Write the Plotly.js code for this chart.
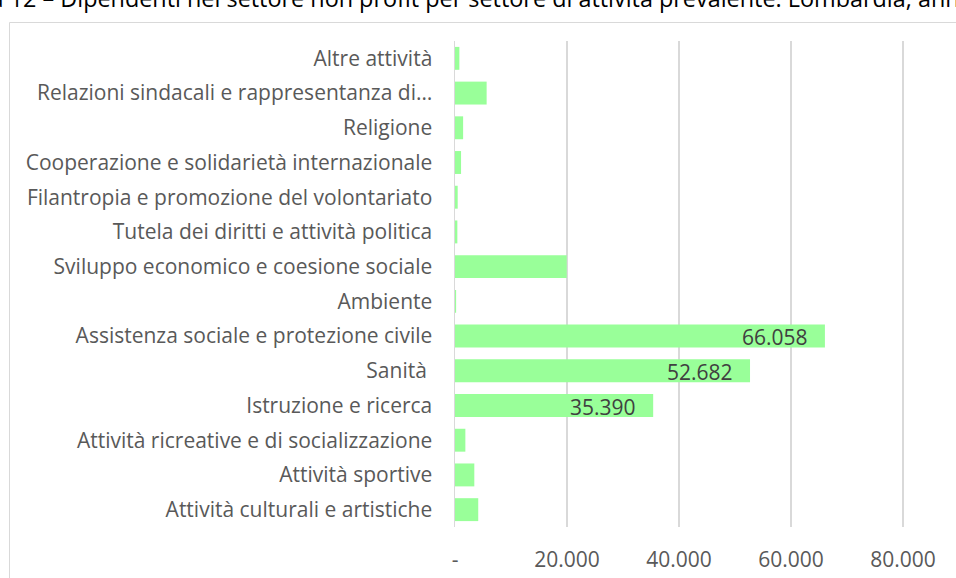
<!DOCTYPE html>
<html>
<head>
<meta charset="utf-8">
<script src="https://cdn.plot.ly/plotly-3.0.1.min.js"></script>
<style>
html,body{margin:0;padding:0;background:#fff;}
#chart{width:956px;height:578px;}
</style>
</head>
<body>
<div id="chart"></div>
<script>
// Categories listed bottom to top (Plotly category axis order)
const categories = [
  "Attività culturali e artistiche",
  "Attività sportive",
  "Attività ricreative e di socializzazione",
  "Istruzione e ricerca",
  "Sanità\u00a0",
  "Assistenza sociale e protezione civile",
  "Ambiente",
  "Sviluppo economico e coesione sociale",
  "Tutela dei diritti e attività politica",
  "Filantropia e promozione del volontariato",
  "Cooperazione e solidarietà internazionale",
  "Religione",
  "Relazioni sindacali e rappresentanza di…",
  "Altre attività"
];
const employees = [4150, 3450, 1850, 35390, 52682, 66058, 200, 19950, 420, 480, 1080, 1450, 5650, 780];
const labelledCategories = ["Istruzione e ricerca", "Sanità\u00a0", "Assistenza sociale e protezione civile"];
const tickValues = [0, 20000, 40000, 60000, 80000];
const tickLabels = ["-", "20.000", "40.000", "60.000", "80.000"];
const titleText = "Figura 12 – Dipendenti nel settore non profit per settore di attività prevalente. Lombardia, anno 2021";

const FONT = "Open Sans, Liberation Sans, sans-serif";
function fmt(v){ return String(Math.round(v)).replace(/\B(?=(\d{3})+(?!\d))/g, "."); }

// plot area geometry (pixels)
const L = 455, R = 46, T = 41, B = 51, W = 956, H = 578;
const pw = W - L - R, ph = H - T - B;
const px2x = p => (p - L) / pw;
const py2y = p => (H - B - p) / ph;
const xMax = 80000 * pw / 448;

const annotations = categories
  .map((c, i) => ({c, v: employees[i]}))
  .filter(d => labelledCategories.includes(d.c))
  .map(d => ({
    x: d.v, y: d.c, xref: "x", yref: "y",
    text: fmt(d.v), showarrow: false,
    xanchor: "right", yanchor: "middle", xshift: -15, yshift: -1,
    font: {family: FONT, size: 21, color: "#404040"}
  }));

annotations.push({
  xref: "paper", yref: "paper",
  x: px2x(-66), y: py2y(16),
  xanchor: "left", yanchor: "bottom",
  text: titleText, showarrow: false,
  font: {family: FONT, size: 23.4, color: "#000000"}
});

const trace = {
  type: "bar",
  orientation: "h",
  y: categories,
  x: employees,
  marker: {color: "#99ff99", line: {width: 0}},
  hoverinfo: "x+y"
};

const layout = {
  width: W, height: H, autosize: false,
  margin: {l: L, r: R, t: T, b: B, pad: 0},
  paper_bgcolor: "#ffffff", plot_bgcolor: "#ffffff",
  bargap: 0.34,
  showlegend: false,
  font: {family: FONT, color: "#595959", size: 21},
  xaxis: {
    range: [0, xMax], tickmode: "array", tickvals: tickValues, ticktext: tickLabels,
    showgrid: true, gridcolor: "#d9d9d9", gridwidth: 1.5, zeroline: false,
    showline: false, ticks: "", ticklabelstandoff: 18,
    tickfont: {family: FONT, size: 21, color: "#595959"}, fixedrange: true
  },
  yaxis: {
    type: "category", showgrid: false, zeroline: false,
    showline: true, linecolor: "#d9d9d9", linewidth: 1.5, ticks: "",
    ticklabelstandoff: 17,
    tickfont: {family: FONT, size: 21, color: "#595959"}, fixedrange: true
  },
  annotations: annotations,
  shapes: [{
    type: "rect", xref: "paper", yref: "paper",
    x0: px2x(9.5), x1: px2x(970), y0: py2y(590), y1: py2y(22.5),
    line: {color: "#d9d9d9", width: 1}, fillcolor: "rgba(0,0,0,0)", layer: "below"
  }]
};

Plotly.newPlot("chart", [trace], layout, {displayModeBar: false, staticPlot: true});
</script>
</body>
</html>
